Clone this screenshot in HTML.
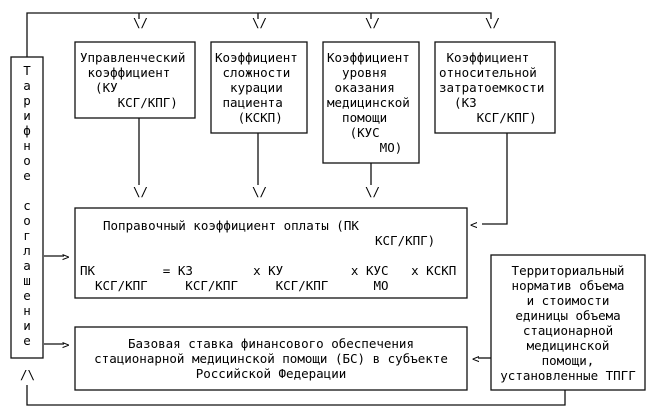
<!DOCTYPE html>
<html><head><meta charset="utf-8"><style>
body{margin:0;background:#fff;}
#c{position:relative;width:654px;height:411px;overflow:hidden;font-family:"DejaVu Sans Mono","Liberation Mono",monospace;font-size:12.5px;color:#000;}
.t{position:absolute;white-space:pre;line-height:15px;}
svg{position:absolute;left:0;top:0;}
</style></head><body><div id="c">
<svg width="654" height="411">
<g fill="none" stroke="#111" stroke-width="1.3">
<polyline points="27,57 27,13 491,13 491,19"/>
<line x1="139" y1="13" x2="139" y2="19"/>
<line x1="258" y1="13" x2="258" y2="19"/>
<line x1="371" y1="13" x2="371" y2="19"/>
<rect x="11" y="57" width="32" height="301"/>
<rect x="75" y="42" width="120" height="76"/>
<rect x="211" y="42" width="96" height="91"/>
<rect x="323" y="42" width="96" height="121"/>
<rect x="435" y="42" width="120" height="91"/>
<line x1="139" y1="118" x2="139" y2="185"/>
<line x1="258" y1="133" x2="258" y2="185"/>
<line x1="371" y1="163" x2="371" y2="185"/>
<polyline points="507,133 507,224 482,224"/>
<rect x="75" y="208" width="392" height="90"/>
<rect x="75" y="327" width="392" height="63"/>
<rect x="491" y="255" width="154" height="135"/>
<line x1="44" y1="256" x2="64" y2="256"/>
<line x1="44" y1="344" x2="64" y2="344"/>
<line x1="478" y1="358" x2="491" y2="358"/>
<polyline points="27,385 27,405 565,405 565,390"/>
</g></svg>
<div class="t" style="left:133px;top:15px">\/</div>
<div class="t" style="left:252px;top:15px">\/</div>
<div class="t" style="left:365px;top:15px">\/</div>
<div class="t" style="left:485px;top:15px">\/</div>
<div class="t" style="left:133px;top:184px">\/</div>
<div class="t" style="left:252px;top:184px">\/</div>
<div class="t" style="left:365px;top:184px">\/</div>
<div class="t" style="left:23px;top:63px;text-align:center;width:8px">Т
а
р
и
ф
н
о
е

с
о
г
л
а
ш
е
н
и
е</div>
<div class="t" style="left:80px;top:50px">Управленческий
 коэффициент
  (КУ
     КСГ/КПГ)</div>
<div class="t" style="left:215px;top:50px">Коэффициент
 сложности
  курации
 пациента
   (КСКП)</div>
<div class="t" style="left:327px;top:50px">Коэффициент
  уровня
 оказания
медицинской
  помощи
   (КУС
       МО)</div>
<div class="t" style="left:439px;top:50px"> Коэффициент
относительной
затратоемкости
  (КЗ
     КСГ/КПГ)</div>
<div class="t" style="left:103px;top:218px">Поправочный коэффициент оплаты (ПК</div>
<div class="t" style="left:375px;top:233px">КСГ/КПГ)</div>
<div class="t" style="left:80px;top:263px">ПК         = КЗ        х КУ         х КУС   х КСКП</div>
<div class="t" style="left:95px;top:278px">КСГ/КПГ     КСГ/КПГ     КСГ/КПГ      МО</div>
<div class="t" style="left:62px;top:249px">&gt;</div>
<div class="t" style="left:62px;top:337px">&gt;</div>
<div class="t" style="left:470px;top:217px">&lt;</div>
<div class="t" style="left:472px;top:351px">&lt;</div>
<div class="t" style="left:75px;top:336px;width:392px;text-align:center">Базовая ставка финансового обеспечения
стационарной медицинской помощи (БС) в субъекте
Российской Федерации</div>
<div class="t" style="left:491px;top:263px;width:154px;text-align:center">Территориальный
норматив объема
и стоимости
единицы объема
стационарной
медицинской
помощи,
установленные ТПГГ</div>
<div class="t" style="left:20px;top:367px">/\</div>
</div></body></html>
